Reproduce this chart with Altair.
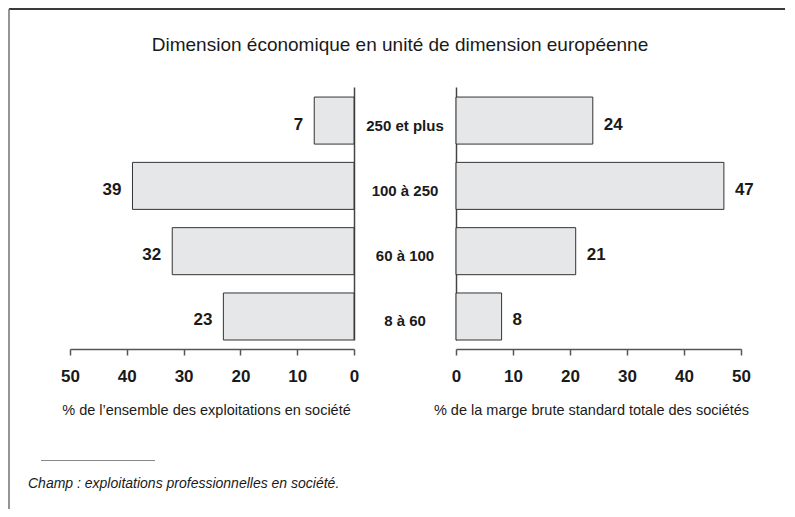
import altair as alt
import pandas as pd

categories = ["250 et plus", "100 à 250", "60 à 100", "8 à 60"]
share_farms = [7, 39, 32, 23]          # % de l'ensemble des exploitations en société
share_margin = [24, 47, 21, 8]         # % de la marge brute standard totale des sociétés
ticks = [0, 10, 20, 30, 40, 50]

title_text = "Dimension économique en unité de dimension européenne"
left_title = "% de l\u2019ensemble des exploitations en société"
right_title = "% de la marge brute standard totale des sociétés"
note_text = "Champ : exploitations professionnelles en société."

df = pd.DataFrame({"cat": categories, "left": share_farms, "right": share_margin})
one = pd.DataFrame({"k": [0]})

SANS = "Liberation Sans, Arial, sans-serif"
INK = "#1a1a1a"
BAR_FILL = "#e6e7e9"
BAR_STROKE = "#333333"
AXIS_GRAY = "#555555"

PH = 253
yscale = alt.Scale(type="band", paddingInner=0.28, paddingOuter=0.077, align=1)


def xaxis(title, title_x):
    return alt.Axis(values=ticks, orient="bottom", offset=9, tickSize=6,
                    domainColor=AXIS_GRAY, tickColor=AXIS_GRAY, domainWidth=1.5,
                    tickWidth=1.5, grid=False, labelFont=SANS, labelFontSize=17,
                    labelFontWeight="bold", labelColor=INK, labelPadding=13,
                    labelFlush=False, labelOverlap=False,
                    title=title, titleFont=SANS, titleFontSize=14.5,
                    titleFontWeight="normal", titleColor=INK, titlePadding=19,
                    titleX=title_x)


def yaxis(orient):
    return alt.Axis(orient=orient, labels=False, ticks=False, domain=True,
                    domainColor="#444444", domainWidth=1.5, title=None, grid=False)


# spacer view carrying the frame, title and footnote
base1 = alt.Chart(one)
top_line = base1.mark_rule(color="#3a3a3a", strokeWidth=2).encode(
    x=alt.value(1), x2=alt.value(777), y=alt.value(-78))
left_line = base1.mark_rule(color="#7a7a7a", strokeWidth=1.6).encode(
    x=alt.value(1), y=alt.value(-78), y2=alt.value(422))
title = base1.mark_text(font=SANS, fontSize=19, color=INK, align="center",
                        baseline="middle").encode(
    x=alt.value(392), y=alt.value(-42.5), text=alt.value(title_text))
note_line = base1.mark_rule(color="#888888", strokeWidth=1).encode(
    x=alt.value(33), x2=alt.value(147), y=alt.value(373.5))
note = base1.mark_text(font=SANS, fontSize=14, fontStyle="italic", color=INK,
                       align="left", baseline="alphabetic").encode(
    x=alt.value(20), y=alt.value(400.5), text=alt.value(note_text))
spacer = alt.layer(top_line, left_line, title, note_line, note).properties(
    width=62, height=PH)

# left panel
base_l = alt.Chart(df)
ycat = alt.Y("cat:N", sort=categories, scale=yscale, axis=yaxis("right"))
bars_l = base_l.mark_bar(fill=BAR_FILL, stroke=BAR_STROKE, strokeWidth=1).encode(
    x=alt.X("left:Q", scale=alt.Scale(domain=[0, 50], reverse=True, nice=False),
            axis=xaxis(left_title, 136)),
    y=ycat)
lab_l = base_l.mark_text(font=SANS, fontSize=17, fontWeight="bold", color=INK,
                         align="right", baseline="middle", dx=-11, dy=4).encode(
    x=alt.X("left:Q"), y=alt.Y("cat:N", sort=categories), text="left:Q")
left = alt.layer(bars_l, lab_l).properties(width=284, height=PH)

# centre labels
center = alt.Chart(df).mark_text(font=SANS, fontSize=15, fontWeight="bold",
                                 color=INK, align="center", baseline="middle",
                                 dy=5).encode(
    x=alt.value(51),
    y=alt.Y("cat:N", sort=categories, scale=yscale, axis=None),
    text="cat:N").properties(width=102, height=PH)

# right panel
base_r = alt.Chart(df)
ycat_r = alt.Y("cat:N", sort=categories, scale=yscale, axis=yaxis("left"))
bars_r = base_r.mark_bar(fill=BAR_FILL, stroke=BAR_STROKE, strokeWidth=1).encode(
    x=alt.X("right:Q", scale=alt.Scale(domain=[0, 50], nice=False),
            axis=xaxis(right_title, 135)),
    y=ycat_r)
lab_r = base_r.mark_text(font=SANS, fontSize=17, fontWeight="bold", color=INK,
                         align="left", baseline="middle", dx=11, dy=4).encode(
    x=alt.X("right:Q"), y=alt.Y("cat:N", sort=categories), text="right:Q")
right = alt.layer(bars_r, lab_r).properties(width=285, height=PH)

chart = alt.hconcat(spacer, left, center, right, spacing=0, bounds="flush").properties(
    padding=0, background="white"
).configure_view(stroke=None)

chart.save("out.html", embed_options={"renderer": "svg", "actions": False})
